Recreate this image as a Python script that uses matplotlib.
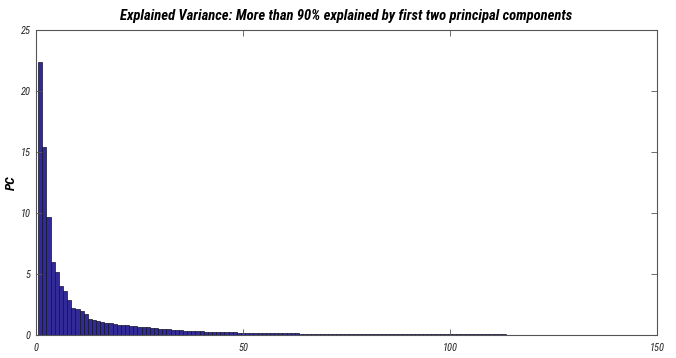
import matplotlib
matplotlib.use("Agg")
import matplotlib.pyplot as plt
from matplotlib import font_manager

names = {f.name for f in font_manager.fontManager.ttflist}
fam = "Roboto Condensed" if "Roboto Condensed" in names else "DejaVu Sans"

components = list(range(1, 144))
explained = [
    22.4, 15.4, 9.7, 6.0, 5.2, 4.0, 3.6, 2.9, 2.2, 2.1,
    2.0, 1.7, 1.35, 1.2, 1.15, 1.05, 1.0, 0.95, 0.9, 0.85,
    0.82, 0.78, 0.75, 0.72, 0.68, 0.65, 0.62, 0.58, 0.55, 0.52,
    0.49, 0.46, 0.43, 0.40, 0.38, 0.36, 0.34, 0.32, 0.30, 0.29,
    0.28, 0.27, 0.26, 0.25, 0.24, 0.23, 0.22, 0.21, 0.20, 0.19,
    0.18, 0.18, 0.17, 0.17, 0.16, 0.16, 0.15, 0.15, 0.14, 0.14,
    0.13, 0.13, 0.13, 0.12, 0.12, 0.12, 0.11, 0.11, 0.11, 0.10,
    0.10, 0.10, 0.10, 0.09, 0.09, 0.09, 0.09, 0.09, 0.08, 0.08,
    0.08, 0.08, 0.08, 0.08, 0.07, 0.07, 0.07, 0.07, 0.07, 0.07,
    0.07, 0.06, 0.06, 0.06, 0.06, 0.06, 0.06, 0.06, 0.06, 0.06,
    0.05, 0.05, 0.05, 0.05, 0.05, 0.05, 0.05, 0.05, 0.05, 0.05,
    0.05, 0.05, 0.05, 0.04, 0.04, 0.04, 0.04, 0.04, 0.04, 0.04,
    0.04, 0.04, 0.04, 0.04, 0.04, 0.04, 0.04, 0.04, 0.04, 0.04,
    0.03, 0.03, 0.03, 0.03, 0.03, 0.03, 0.03, 0.03, 0.03, 0.03,
    0.03, 0.03, 0.03,
]
xticks = [0, 50, 100, 150]
yticks = [0, 5, 10, 15, 20, 25]
title = "Explained Variance: More than 90% explained by first two principal components"

fig = plt.figure(figsize=(6.76, 3.58), dpi=100)
ax = fig.add_axes([0.0533, 0.0642, 0.9187, 0.852])
ax.bar(components, explained, width=1.0, color="#322a96", edgecolor="#12122a", linewidth=0.5)
ax.set_xlim(0, 150)
ax.set_ylim(0, 25)
ax.set_xticks(xticks)
ax.set_yticks(yticks)
ax.tick_params(direction="in", length=4, width=0.6, top=True, right=True, colors="#555555",
               labelcolor="#222222", labelsize=7.5)
for lab in ax.get_xticklabels() + ax.get_yticklabels():
    lab.set_fontfamily(fam)
    lab.set_fontstyle("italic")
ax.tick_params(axis="x", pad=6)
ax.tick_params(axis="y", pad=4)
for s in ax.spines.values():
    s.set_color("#555555")
    s.set_linewidth(0.8)
ax.set_ylabel("PC", fontfamily=fam, fontstyle="italic", fontweight="bold", fontsize=9.5, labelpad=2)
ax.set_title(title, fontfamily=fam, fontstyle="italic", fontweight="bold", fontsize=10.5, pad=7.5)
fig.savefig("out.png", dpi=100)
